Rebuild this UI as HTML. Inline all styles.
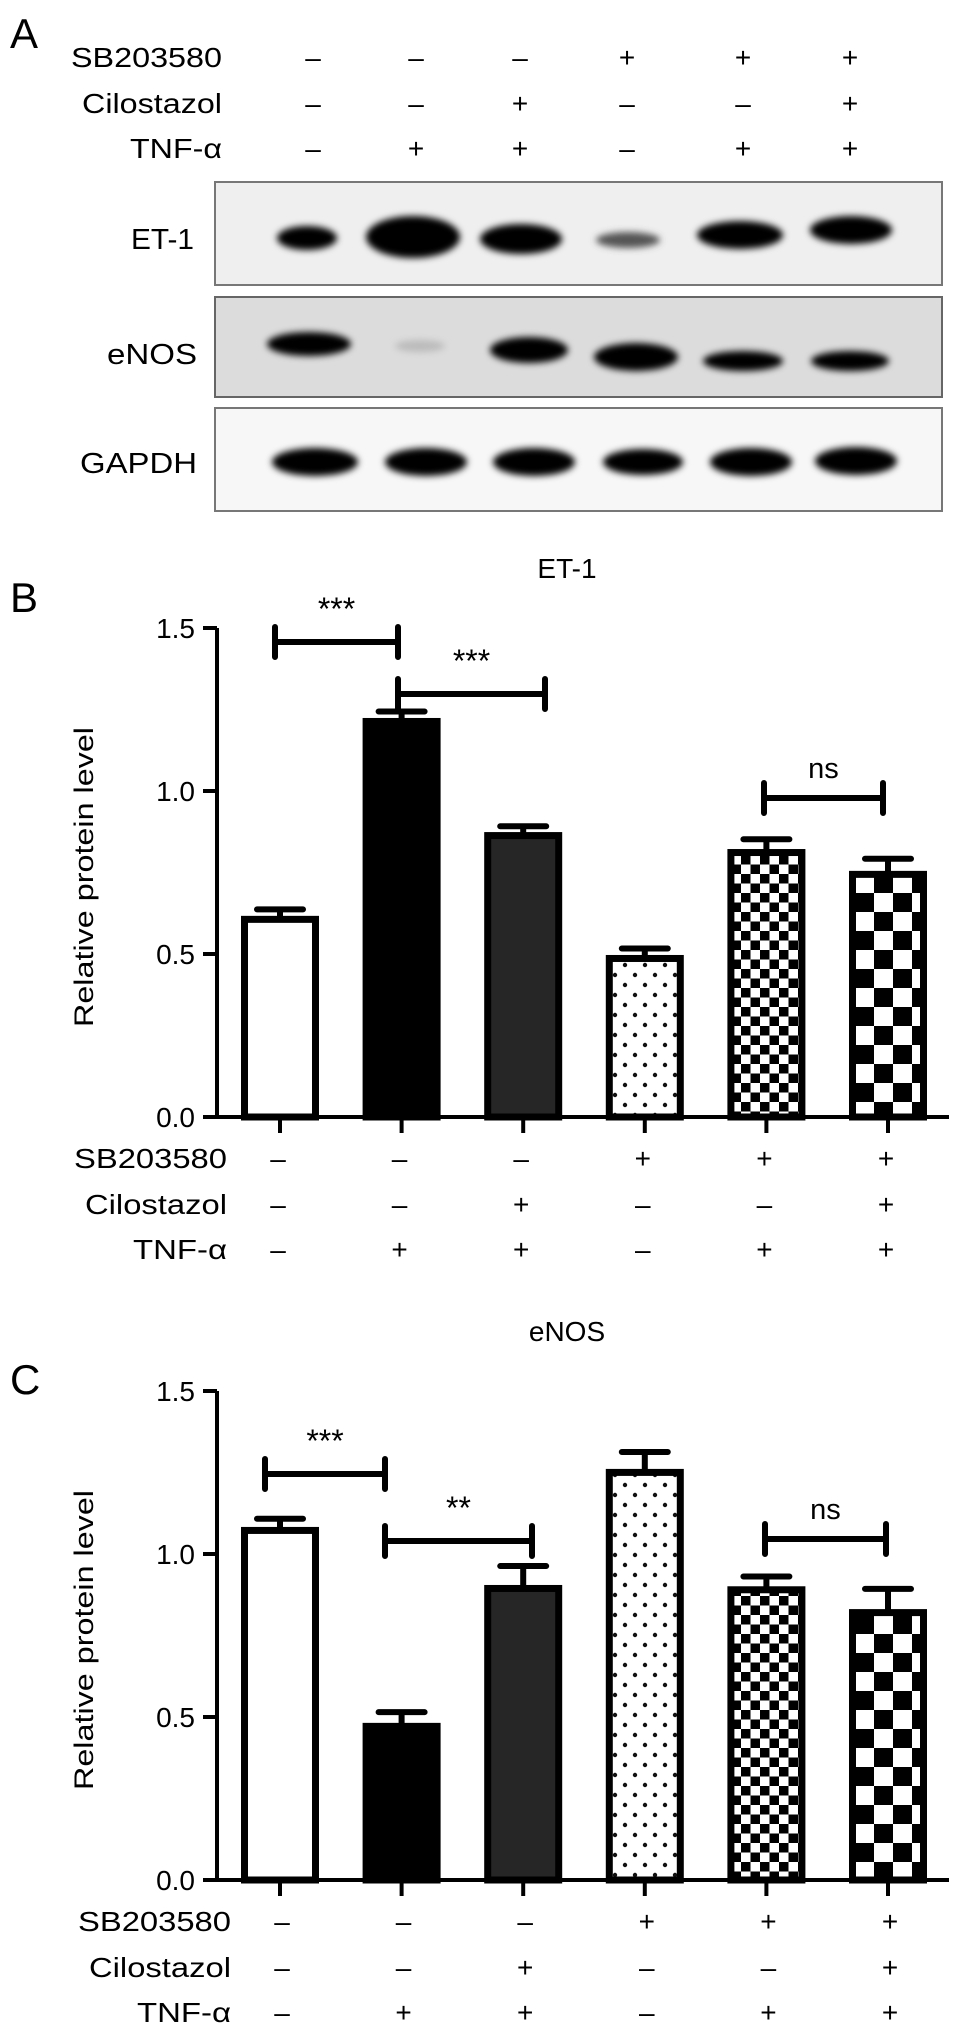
<!DOCTYPE html>
<html><head><meta charset="utf-8"><style>
html,body{margin:0;padding:0;background:#fff;}
svg{display:block;font-family:"Liberation Sans",Arial,sans-serif;}
</style></head><body>
<svg id="fig" width="969" height="2040" viewBox="0 0 969 2040" xmlns="http://www.w3.org/2000/svg">
<defs>
<filter id="blur" x="-30%" y="-60%" width="160%" height="220%"><feGaussianBlur stdDeviation="3.5"/></filter>
<pattern id="dots" width="20" height="20" patternUnits="userSpaceOnUse"><rect width="20" height="20" fill="#fff"/><circle cx="5" cy="5" r="2.2" fill="#111"/><circle cx="15" cy="15" r="2.2" fill="#111"/></pattern>
<pattern id="check-small" width="19" height="19" patternUnits="userSpaceOnUse"><rect width="19" height="19" fill="#fff"/><rect width="9.5" height="9.5" fill="#000"/><rect x="9.5" y="9.5" width="9.5" height="9.5" fill="#000"/></pattern>
<pattern id="check-big" width="38" height="38" patternUnits="userSpaceOnUse"><rect width="38" height="38" fill="#fff"/><rect width="19" height="19" fill="#000"/><rect x="19" y="19" width="19" height="19" fill="#000"/></pattern>
</defs>

<!-- Panel A -->
<text x="10" y="48" font-size="42">A</text>
<g font-size="28" text-anchor="end">
<text x="222" y="67" textLength="151" lengthAdjust="spacingAndGlyphs">SB203580</text>
<text x="222" y="113" textLength="140" lengthAdjust="spacingAndGlyphs">Cilostazol</text>
<text x="222" y="158" textLength="92" lengthAdjust="spacingAndGlyphs">TNF-α</text>
</g>
<g id="signsA" font-size="28" text-anchor="middle"></g>

<g font-size="29" text-anchor="end">
<text x="194" y="249" textLength="63" lengthAdjust="spacingAndGlyphs">ET-1</text>
<text x="197" y="364" textLength="90" lengthAdjust="spacingAndGlyphs">eNOS</text>
<text x="197" y="473" textLength="117" lengthAdjust="spacingAndGlyphs">GAPDH</text>
</g>
<g>
<rect x="215" y="182" width="727" height="103" fill="#efefef" stroke="#777" stroke-width="2"/>
<g filter="url(#blur)" fill="#000">
<ellipse cx="307" cy="238" rx="30" ry="12"/>
<ellipse cx="413" cy="237" rx="47" ry="21"/>
<ellipse cx="521" cy="239" rx="41" ry="15"/>
<ellipse cx="628" cy="240" rx="32" ry="8" fill="#555"/>
<ellipse cx="740" cy="235" rx="43" ry="14"/>
<ellipse cx="851" cy="230" rx="41" ry="14"/>
</g>
</g>
<g>
<rect x="215" y="297" width="727" height="100" fill="#dcdcdc" stroke="#666" stroke-width="2"/>
<g filter="url(#blur)" fill="#000">
<ellipse cx="309" cy="344" rx="42" ry="12"/>
<ellipse cx="420" cy="346" rx="25" ry="6" fill="#bbb"/>
<ellipse cx="529" cy="350" rx="39" ry="13"/>
<ellipse cx="636" cy="357" rx="42" ry="14"/>
<ellipse cx="743" cy="361" rx="40" ry="10"/>
<ellipse cx="850" cy="361" rx="39" ry="10"/>
</g>
</g>
<g>
<rect x="215" y="408" width="727" height="103" fill="#f7f7f7" stroke="#777" stroke-width="2"/>
<g filter="url(#blur)" fill="#000">
<ellipse cx="315" cy="462" rx="43" ry="14"/>
<ellipse cx="426" cy="462" rx="41" ry="14"/>
<ellipse cx="534" cy="462" rx="41" ry="14"/>
<ellipse cx="643" cy="462" rx="40" ry="13"/>
<ellipse cx="751" cy="462" rx="41" ry="14"/>
<ellipse cx="856" cy="461" rx="41" ry="14"/>
</g>
</g>

<text x="10" y="612" font-size="42">B</text>
<text x="10" y="1394" font-size="42">C</text>
<g id="chartB"></g>
<g id="chartC"></g>
</svg>
<script>
// ---- data ----
const categories = ["Control","TNF","TNF+Cilo","SB","SB+TNF","SB+Cilo+TNF"];
const sbSigns = ["–","–","–","+","+","+"];
const ciloSigns = ["–","–","+","–","–","+"];
const tnfSigns = ["–","+","+","–","+","+"];
const et1Values = [0.617, 1.224, 0.874, 0.497, 0.822, 0.755];
const et1Errors = [0.02, 0.02, 0.018, 0.02, 0.03, 0.037];
const enosValues = [1.083, 0.482, 0.905, 1.261, 0.901, 0.831];
const enosErrors = [0.025, 0.033, 0.058, 0.052, 0.03, 0.062];
const yTicks = [0.0, 0.5, 1.0, 1.5];
const yTickLabels = ["0.0","0.5","1.0","1.5"];
const et1Sig = [[0,1,"***"],[1,2,"***"],[4,5,"ns"]];
const enosSig = [[0,1,"***"],[1,2,"**"],[4,5,"ns"]];

const NS = "http://www.w3.org/2000/svg";
function mk(parent, tag, attrs, text){
  const e = document.createElementNS(NS, tag);
  for (const k in attrs) e.setAttribute(k, attrs[k]);
  if (text !== undefined) e.textContent = text;
  parent.appendChild(e);
  return e;
}
const fills = ["#fff","#000","#262626","url(#dots)","url(#check-small)","url(#check-big)"];

// panel A signs
const signsA = document.getElementById('signsA');
const laneA = [313,416,520,627,743,850];
[[sbSigns,67],[ciloSigns,113],[tnfSigns,158]].forEach(([arr,y],r)=>{
  arr.forEach((s,i)=>{
    const t = mk(signsA,'text',{x:laneA[i], y:y}, s);
    
    
  });
});

function drawChart(g, title, values, errors, sig, y0, signShift, sigLayout){
  const axX = 217, axR = 949, vmax = 1.5, plotH = 489;
  const y = v => y0 - v / vmax * plotH;
  const step = 121.6, x0 = 280, bw = 78;
  const xc = i => x0 + i * step;
  const t = mk(g,'text',{x:567,y:y0-plotH-50,'font-size':28,'text-anchor':'middle'}, title);
  
  
  const yt = mk(g,'text',{x:0,y:0,'font-size':27,'text-anchor':'middle',transform:`translate(93,${y0-240}) rotate(-90)`,textLength:300,lengthAdjust:'spacingAndGlyphs'}, "Relative protein level");
  
  
  values.forEach((v,i)=>{
    const top = y(v);
    const r = mk(g,'rect',{x:xc(i)-bw/2+3.5, y:top+3.5, width:bw-7, height:y0-top-3.5, fill:fills[i], stroke:'#000','stroke-width':7});
    
    
    const et = y(v + errors[i]);
    const eb = mk(g,'path',{d:`M${xc(i)} ${top} V${et} M${xc(i)-23} ${et} H${xc(i)+23}`, stroke:'#000','stroke-width':6,'stroke-linecap':'round',fill:'none'});
    
    
  });
  const ax = mk(g,'path',{d:`M${axX} ${y(vmax)} V${y0} H${axR}`, stroke:'#000','stroke-width':4,fill:'none'});
  
  
  yTicks.forEach((v,k)=>{
    const tk = mk(g,'path',{d:`M${axX-14} ${y(v)} H${axX}`, stroke:'#000','stroke-width':4});
    
    
    const tl = mk(g,'text',{x:195,y:y(v)+10,'font-size':28,'text-anchor':'end'}, yTickLabels[k]);
    
    
  });
  categories.forEach((c,i)=>{
    const tk = mk(g,'path',{d:`M${xc(i)} ${y0} V${y0+16}`, stroke:'#000','stroke-width':4});
    
    
  });
  const rows = [["SB203580",sbSigns,41,153],["Cilostazol",ciloSigns,87,142],["TNF-α",tnfSigns,132,94]];
  rows.forEach(([lab,arr,dy,len])=>{
    const l = mk(g,'text',{x:227+signShift,y:y0+dy+10,'font-size':28,'text-anchor':'end',textLength:len,lengthAdjust:'spacingAndGlyphs'}, lab);
    
    
    arr.forEach((s,i)=>{
      const st = mk(g,'text',{x:xc(i)-2+signShift,y:y0+dy+10,'font-size':28,'text-anchor':'middle'}, s);
      
      
    });
  });
  sig.forEach((s,k)=>{
    const L = sigLayout[k];
    const br = mk(g,'path',{d:`M${L[0]} ${L[2]-15} V${L[2]+15} M${L[0]} ${L[2]} H${L[1]} M${L[1]} ${L[2]-15} V${L[2]+15}`, stroke:'#000','stroke-width':6,'stroke-linecap':'round',fill:'none'});
    
    
    const st = mk(g,'text',{x:(L[0]+L[1])/2,y:L[2]-(s[2]==='ns'?20:22),'font-size':s[2]==='ns'?29:32,'text-anchor':'middle'}, s[2]);
    
    
  });
}
drawChart(document.getElementById('chartB'), "ET-1", et1Values, et1Errors, et1Sig, 1117, 0,
  [[275,398,642],[398,545,694],[764,883,798]]);
drawChart(document.getElementById('chartC'), "eNOS", enosValues, enosErrors, enosSig, 1880, 4,
  [[265,385,1474],[385,532,1541],[765,886,1539]]);
</script>
</body></html>
